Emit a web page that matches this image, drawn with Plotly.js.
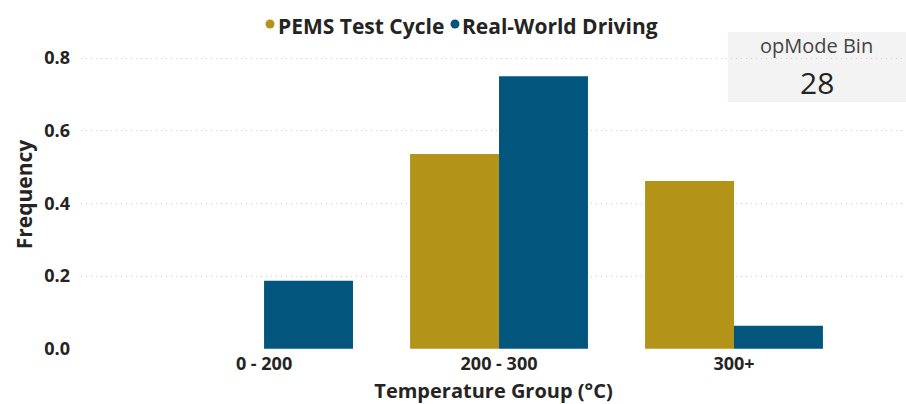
<!DOCTYPE html>
<html>
<head>
<meta charset="utf-8">
<script src="https://cdn.plot.ly/plotly-3.0.1.min.js"></script>
<style>html,body{margin:0;padding:0;background:#fff;}#chart{width:906px;height:404px;}</style>
</head>
<body>
<div id="chart"></div>
<script>
const categories = ["0 - 200", "200 - 300", "300+"];
const pemsTestCycle = [0, 0.536, 0.462];
const realWorldDriving = [0.187, 0.750, 0.063];
const seriesNames = ["PEMS Test Cycle", "Real-World Driving"];
const yTicks = [0, 0.2, 0.4, 0.6, 0.8];
const yTickLabels = ["0.0", "0.2", "0.4", "0.6", "0.8"];
const cardTitle = "opMode Bin";
const cardValue = "28";

const GOLD = "#B39318";
const BLUE = "#02567E";
const TXT = "#252423";
const FONT = "Open Sans, Noto Sans, DejaVu Sans, sans-serif";

const data = [
  {type: "bar", name: seriesNames[0], x: categories, y: pemsTestCycle,
   marker: {color: GOLD, line: {width: 0}}, showlegend: false},
  {type: "bar", name: seriesNames[1], x: categories, y: realWorldDriving,
   marker: {color: BLUE, line: {width: 0}}, showlegend: false}
];

function legendDot(xp, color) {
  return {type: "circle", xref: "paper", yref: "paper", xsizemode: "pixel", ysizemode: "pixel",
    xanchor: xp, yanchor: 1.0518, x0: -4.5, x1: 4.5, y0: -4.5, y1: 4.5,
    fillcolor: color, line: {width: 0}, layer: "above"};
}

const layout = {
  width: 906, height: 404,
  margin: {l: 81, r: 0, t: 40, b: 55, pad: 0},
  paper_bgcolor: "#ffffff", plot_bgcolor: "#ffffff",
  font: {family: FONT, color: TXT},
  barmode: "group", bargap: 0.243, bargroupgap: 0,
  showlegend: false,
  xaxis: {
    type: "category", range: [-0.779, 2.732],
    showgrid: false, zeroline: false, showline: false, ticks: "",
    tickfont: {size: 18, color: TXT, weight: "bold"},
    ticklabelstandoff: 2,
    title: {text: "Temperature Group (°C)", font: {size: 20, color: TXT, weight: "bold"}, standoff: 11}
  },
  yaxis: {
    range: [-0.001, 0.85],
    tickvals: yTicks, ticktext: yTickLabels,
    showgrid: true, gridcolor: "#CFCFCF", gridwidth: 1, griddash: "1px,4px",
    zeroline: false, showline: false, ticks: "",
    tickfont: {size: 18, color: TXT, weight: "bold"},
    ticklabelstandoff: 10,
    title: {text: "Frequency", font: {size: 21, color: TXT, weight: "bold"}, standoff: 5}
  },
  shapes: [
    {type: "rect", xref: "paper", yref: "paper", x0: 0.784, x1: 1.0, y0: 0.799, y1: 1.026,
     fillcolor: "#F3F3F3", line: {width: 0}, layer: "between"},
    legendDot(0.2291, GOLD),
    legendDot(0.4533, BLUE)
  ],
  annotations: [
    {xref: "paper", yref: "paper", x: 0.2365, y: 1.0453, xanchor: "left", yanchor: "middle", showarrow: false,
     text: "<b>" + seriesNames[0] + "</b>", font: {size: 21, color: TXT, family: FONT}},
    {xref: "paper", yref: "paper", x: 0.4595, y: 1.0453, xanchor: "left", yanchor: "middle", showarrow: false,
     text: "<b>" + seriesNames[1] + "</b>", font: {size: 21, color: TXT, family: FONT}},
    {xref: "paper", yref: "paper", x: 0.892, y: 0.981, xanchor: "center", yanchor: "middle", showarrow: false,
     text: cardTitle, font: {size: 20, color: "#444444", family: FONT}},
    {xref: "paper", yref: "paper", x: 0.892, y: 0.864, xanchor: "center", yanchor: "middle", showarrow: false,
     text: cardValue, font: {size: 30, color: TXT, family: FONT}}
  ]
};

Plotly.newPlot("chart", data, layout, {displayModeBar: false, staticPlot: true});
</script>
</body>
</html>
